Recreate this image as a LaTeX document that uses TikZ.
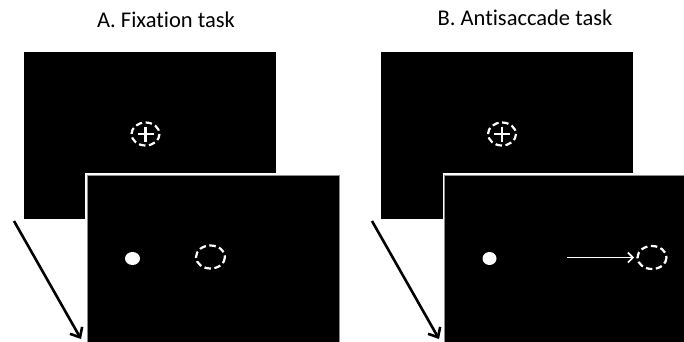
\documentclass[tikz,border=0pt]{standalone}
\usepackage{fontspec}
\setmainfont[Ligatures=NoCommon]{Carlito}
\usetikzlibrary{arrows.meta}
\tikzset{
  backscreen/.style={fill=black, draw=none},
  frontscreen/.style={fill=black, draw=black!45, line width=0.8pt},
  frontgap/.style={draw=white, line width=4pt},
  dashring/.style={draw=white, line width=2.2pt, dash pattern=on 6.5pt off 3.5pt},
  crossline/.style={draw=white, line width=2.8pt},
  dotmark/.style={fill=white, draw=none},
  seqarrow/.style={draw=black, line width=2.6pt, -{Straight Barb[length=8pt,width=14pt,line width=2.6pt]}},
  saccarrow/.style={draw=white, line width=1.6pt, -{Straight Barb[length=5pt,width=10pt,line width=1.6pt]}},
  title/.style={font=\fontsize{22.5}{26}\selectfont, text=black, inner sep=0pt}
}
\begin{document}
\begin{tikzpicture}[x=1pt,y=-1pt]
\useasboundingbox (0,0) rectangle (684,341);
\fill[white] (0,0) rectangle (684,341);

% ---------- Panel A ----------
\node[title] (titleA) at (166,20) {A. Fixation task};
\fill[backscreen] (24,52) rectangle (276,219);
% fixation cross with dashed ring
\draw[dashring] (145.5,134) ellipse [x radius=14, y radius=11.5];
\draw[crossline] (137.5,134) -- (153.5,134);
\draw[crossline] (145.5,126.5) -- (145.5,142);
\coordinate (cA) at (145.5,134);
% front screen
\draw[frontgap] (87,175) rectangle (339.5,345);
\draw[frontscreen] (87,175) rectangle (339.5,345);
\fill[dotmark] (132.5,258.5) ellipse [x radius=7.5, y radius=6.5];
\draw[dashring] (210.5,257) ellipse [x radius=14.5, y radius=11.5];
% time arrow
\coordinate (aStart) at (14,221);
\coordinate (aEnd) at (81,339);
\draw[seqarrow] (aStart) -- (aEnd);

% ---------- Panel B ----------
\node[title] (titleB) at (525,18) {B. Antisaccade task};
\fill[backscreen] (381,52) rectangle (633,219);
\draw[dashring] (502,134) ellipse [x radius=14, y radius=11.5];
\draw[crossline] (494,134) -- (510,134);
\draw[crossline] (502,126.5) -- (502,142);
% front screen
\draw[frontgap] (444.5,175) rectangle (690,345);
\draw[frontscreen] (444.5,175) rectangle (690,345);
\fill[dotmark] (489.5,258.5) ellipse [x radius=7, y radius=6.5];
\draw[dashring] (652,257.5) ellipse [x radius=14.5, y radius=11.5];
\coordinate (sStart) at (567,257.5);
\coordinate (sEnd) at (634,257.5);
\draw[saccarrow] (sStart) -- (sEnd);
% time arrow
\coordinate (bStart) at (372,221);
\coordinate (bEnd) at (439,339);
\draw[seqarrow] (bStart) -- (bEnd);
\end{tikzpicture}
\end{document}
